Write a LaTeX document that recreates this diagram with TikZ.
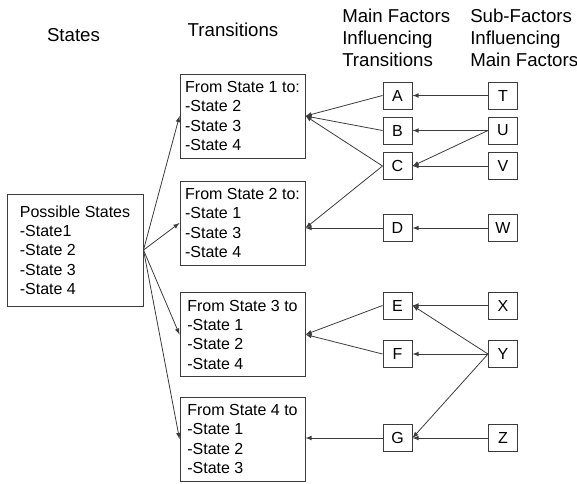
\documentclass[tikz,border=0pt]{standalone}
\usepackage{fontspec}
\setmainfont{Liberation Sans}
\usepackage{tikz}
\usetikzlibrary{arrows}
\definecolor{linegray}{RGB}{60,60,60}

\begin{document}
\begin{tikzpicture}[x=0.75pt,y=-0.75pt,>=latex,
  every node/.style={font=\fontsize{12}{14.5}\selectfont},
  head/.style={font=\fontsize{14}{16.5}\selectfont,inner sep=0pt,align=left},
  possbox/.style={draw=linegray,line width=0.75pt,minimum width=102pt,minimum height=84pt,align=left},
  trbox/.style={draw=linegray,line width=0.75pt,minimum width=93.75pt,minimum height=63pt,
    inner xsep=2pt,align=left},
  fbox/.style={draw=linegray,line width=0.75pt,minimum width=21.75pt,minimum height=20.25pt,inner sep=0pt},
  conn/.style={draw=linegray,line width=0.6pt,->}]
\useasboundingbox (0,0) rectangle (577,483);
% column heads
\node[head] (hstates) at (73.5,35) {States};
\node[head] (htrans) at (233,30) {Transitions};
\node[head,anchor=west] (hmain) at (342,38) {Main Factors\\Influencing\\Transitions};
\node[head,anchor=west] (hsub) at (470,38) {Sub-Factors\\Influencing\\Main Factors};
% states and transitions
\node[possbox] (poss) at (75,250) {Possible States\\-State1\\-State 2\\-State 3\\-State 4};
\node[trbox] (t1) at (242.5,116) {From State 1 to:\\-State 2\\-State 3\\-State 4};
\node[trbox] (t2) at (242.5,223) {From State 2 to:\\-State 1\\-State 3\\-State 4};
\node[trbox] (t3) at (242.5,334.5) {From State 3 to\\-State 1\\-State 2\\-State 4};
\node[trbox] (t4) at (242.5,439) {From State 4 to\\-State 1\\-State 2\\-State 3};
% main factors
\node[fbox] (A) at (397.5,95.5) {A};
\node[fbox] (B) at (397.5,130.5) {B};
\node[fbox] (C) at (397.5,166) {C};
\node[fbox] (D) at (397.5,228) {D};
\node[fbox] (E) at (397.5,305.5) {E};
\node[fbox] (F) at (397.5,354) {F};
\node[fbox] (G) at (397.5,438) {G};
% sub-factors
\node[fbox] (T) at (503,95.5) {T};
\node[fbox] (U) at (503,130.5) {U};
\node[fbox] (V) at (503,166) {V};
\node[fbox] (W) at (503,228) {W};
\node[fbox] (X) at (503,305.5) {X};
\node[fbox] (Y) at (503,354) {Y};
\node[fbox] (Z) at (503,438) {Z};

\foreach \t in {t1,t2,t3,t4}
  \draw[conn] (poss.east) -- (\t.west);
\draw[conn] (A.west) -- (t1.east);
\draw[conn] (B.west) -- (t1.east);
\draw[conn] (C.west) -- (t1.east);
\draw[conn] (C.west) -- (t2.east |- D.west);
\draw[conn] (D.west) -- (t2.east |- D.west);
\draw[conn] (E.west) -- (t3.east);
\draw[conn] (F.west) -- (t3.east);
\draw[conn] (G.west) -- (t4.east |- G.west);
\foreach \s/\m in {T/A,U/B,V/C,W/D,X/E,Y/F,Z/G}
  \draw[conn] (\s.west) -- (\m.east);
\draw[conn] (U.west) -- (C.east);
\draw[conn] (Y.west) -- (E.east);
\draw[conn] (Y.west) -- (G.east);
\end{tikzpicture}
\end{document}
